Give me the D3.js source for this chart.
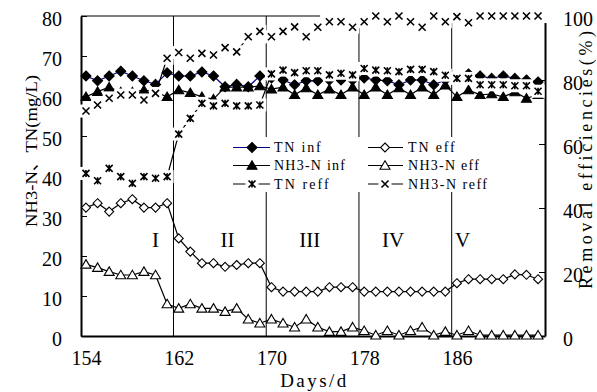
<!DOCTYPE html>
<html><head><meta charset="utf-8">
<script src="https://cdn.jsdelivr.net/npm/d3@7"></script>
<style>body{margin:0;background:#fff}svg{display:block}</style>
</head><body><svg id="c" width="597" height="392"></svg>
<script>
const days = [154,155,156,157,158,159,160,161,162,163,164,165,166,167,168,169,170,171,172,173,174,175,176,177,178,179,180,181,182,183,184,185,186,187,188,189,190,191,192,193];
const tnInf = [65,63.8,65,66.2,65,63.8,62.9,65.8,65,65,66,65,62.3,62.9,62.3,65,64.5,64,62.8,63.8,63.8,64,64,64,64.5,64,63.8,62.8,64,64,62.8,64,64.5,65.5,65,64.4,65,64.4,64,63.5];
const tnEff = [32.1,33.2,31.1,33.2,34.2,32.1,32.1,33.2,24.4,21.1,18.2,18.2,17.3,17.75,18.2,18.2,12.2,11.1,11.1,11.1,11.1,12.2,12.2,12.2,11.1,11.1,11.1,11.1,11.1,11.1,11.1,11.1,13.2,14.2,14.2,14.2,14.2,15.4,15.3,14.2];
const nh3Inf = [59.8,61.1,62.2,61,61,61.5,61,59.8,61.5,60.8,59.8,59.2,62.2,62.2,62.2,62.5,61.7,62.2,60.3,62,60.3,61.7,60.3,62.2,60.3,62.2,60.3,62,60.3,62.2,60.3,62.7,59.8,61.5,60.3,60.5,59.8,61,59.4,60.3];
const nh3Eff = [17.9,17.1,16.1,15.25,15.25,16.1,15.25,8,6.9,8,6.9,6.9,6.1,6.9,4.2,3.2,4.2,3.2,2.2,4.2,2.2,1.1,1.1,2.2,1.3,0.2,1.3,0.2,1.3,2.2,0.2,1.1,0.2,1.3,0.2,0.2,0.2,0.2,0.2,0.2];
const tnReff = [50.8,48.5,52.4,49.8,47.7,49.8,49.3,49.8,63.1,68,72.7,71.9,72.7,71.9,71.9,72.2,81.9,83.1,82.3,82.9,82.9,81.6,82.1,81.6,83.6,83.1,82.9,82.6,83.3,83.3,82.6,81.5,80.5,80.5,78.5,78.5,78.5,78.2,78.2,76.5];
const nh3Reff = [70.3,72.2,74.3,75.3,75.3,73.75,75.8,86.8,88.6,86.8,88.3,87.8,90.1,88.8,93.5,95.2,93.5,95.2,96.6,93.5,96.5,98.2,98.2,96.5,98.2,100,98.2,100,98.2,96.5,100,98.2,99.8,97.9,100,100,100,100,100,100];
const xTicks = [154,162,170,178,186];
const leftTicks = [0,10,20,30,40,50,60,70,80];
const rightTicks = [0,20,40,60,80,100];
const stageBounds = [161.55,169.55,177.55,185.55];
const stageNames = ["I","II","III","IV","V"];
const stageLabelDays = [160,166.2,173.3,180.5,186.5];
const seriesNames = ["TN inf","TN eff","NH3-N inf","NH3-N eff","TN reff","NH3-N reff"];

const svg = d3.select("#c");
const x = d3.scaleLinear().domain([153.57,193.6]).range([81,545]);
const yL = d3.scaleLinear().domain([0,80]).range([336,16]);
const yR = d3.scaleLinear().domain([0,100]).range([336,16]);

const serif = "'Liberation Serif','Noto Sans CJK SC',serif";

// frame top
svg.append("line").attr("x1",x.range()[0]).attr("x2",x.range()[1]).attr("y1",yL(80)).attr("y2",yL(80)).attr("stroke","#000").attr("stroke-width",1);

// stage boundaries
svg.selectAll("line.stage").data(stageBounds).join("line").attr("class","stage")
  .attr("x1",d=>x(d)).attr("x2",d=>x(d)).attr("y1",yL(80)).attr("y2",yL(0))
  .attr("stroke","#000").attr("stroke-width",1);

// axes
const axL = svg.append("g").attr("transform",`translate(${x.range()[0]},0)`)
  .call(d3.axisLeft(yL).tickValues(leftTicks).tickSizeInner(-6).tickSizeOuter(0).tickPadding(19));
const axR = svg.append("g").attr("transform",`translate(${x.range()[1]},0)`)
  .call(d3.axisRight(yR).tickValues(rightTicks).tickSizeInner(-6).tickSizeOuter(0).tickPadding(18));
const axB = svg.append("g").attr("transform",`translate(0,${yL(0)})`)
  .call(d3.axisBottom(x).tickValues(xTicks).tickSize(0).tickPadding(15).tickFormat(d3.format("d")));
[axL,axR,axB].forEach(g=>{
  g.select(".domain").attr("stroke-width",2);
  g.selectAll("text").attr("font-family",serif).attr("font-size",20).attr("fill","#000");
});
axL.selectAll("text").attr("dy","0.45em");
axR.selectAll("text").attr("dy","0.45em");

// the reference frame is broken at its top-right corner
svg.append("rect").attr("x",x(174.2)).attr("y",yR(100)-6).attr("width",x.range()[1]-x(174.2)+3)
  .attr("height",yR(97.8)-yR(100)+6).attr("fill","#fff");

// stage labels
svg.selectAll("text.stg").data(stageNames).join("text").attr("class","stg")
  .attr("x",(d,i)=>x(stageLabelDays[i])).attr("y",247).attr("text-anchor","middle")
  .attr("font-family",serif).attr("font-size",21).text(d=>d);

// markers
function markerPath(type, s){
  const h=s/2;
  if(type==="diamond") return `M0,${-h}L${h},0L0,${h}L${-h},0Z`;
  if(type==="tri") return `M0,${-h*0.95}L${h},${h*0.75}L${-h},${h*0.75}Z`;
  if(type==="x") return `M${-h},${-h}L${h},${h}M${-h},${h}L${h},${-h}`;
  if(type==="star") return `M${-h},${-h}L${h},${h}M${-h},${h}L${h},${-h}M0,${-h}L0,${h}`;
}
const series = [
  {name:seriesNames[0], vals:tnInf, y:yL, line:"#000080", m:"diamond", fill:"#000", size:10, bg:false},
  {name:seriesNames[1], vals:tnEff, y:yL, line:"#000", m:"diamond", fill:"#fff", size:9, bg:false},
  {name:seriesNames[2], vals:nh3Inf, y:yL, line:"#000", m:"tri", fill:"#000", size:10, bg:false},
  {name:seriesNames[3], vals:nh3Eff, y:yL, line:"#000", m:"tri", fill:"#fff", size:10, bg:false},
  {name:seriesNames[4], vals:tnReff, y:yR, line:"#000", m:"star", fill:"none", size:7, bg:true},
  {name:seriesNames[5], vals:nh3Reff, y:yR, line:"#000", m:"x", fill:"none", size:7, bg:true}
];
function drawMarker(g, s, cx, cy){
  if(s.bg) g.append("rect").attr("x",cx-6.5).attr("y",cy-6.5).attr("width",13).attr("height",13).attr("fill","#fff");
  g.append("path").attr("d",markerPath(s.m,s.size)).attr("transform",`translate(${cx},${cy})`)
    .attr("fill",s.fill).attr("stroke","#000").attr("stroke-width",s.bg?1.6:1.1);
}
series.forEach(s=>{
  const g = svg.append("g");
  const line = d3.line().x((d,i)=>x(days[i])).y(d=>s.y(d));
  g.append("path").attr("d",line(s.vals)).attr("fill","none").attr("stroke",s.line).attr("stroke-width",1.2);
  s.vals.forEach((v,i)=>drawMarker(g,s,x(days[i]),s.y(v)));
});

// legend
const lg = svg.append("g");
lg.append("rect").attr("x",228).attr("y",137).attr("width",244).attr("height",55).attr("fill","#fff");
const colX = [[233,270,252,274],[368,403,385,408]];
const rowY = [147.5,165.5,184];
series.forEach((s,i)=>{
  const c = colX[i%2], r = rowY[Math.floor(i/2)];
  lg.append("line").attr("x1",c[0]).attr("x2",c[1]).attr("y1",r).attr("y2",r).attr("stroke",s.line).attr("stroke-width",1.2);
  drawMarker(lg,s,c[2],r);
  lg.append("text").attr("x",c[3]).attr("y",r).attr("dy","0.35em").attr("font-family",serif).attr("font-size",14)
    .attr("textLength",s.name.length*8.1-2).text(s.name);
});

// titles
svg.append("text").attr("x",x(173.6)).attr("y",387).attr("text-anchor","middle")
  .attr("font-family",serif).attr("font-size",19).attr("textLength",66).text("Days/d");
svg.append("text").attr("transform","translate(37,151) rotate(-90)").attr("text-anchor","middle")
  .attr("font-family",serif).attr("font-size",17).attr("textLength",152).attr("lengthAdjust","spacingAndGlyphs").text("NH3-N、TN(mg/L)");
svg.append("text").attr("transform","translate(592,160) rotate(-90)").attr("text-anchor","middle")
  .attr("font-family",serif).attr("font-size",18).attr("textLength",258).text("Removal efficiencies(%)");
</script></body></html>
